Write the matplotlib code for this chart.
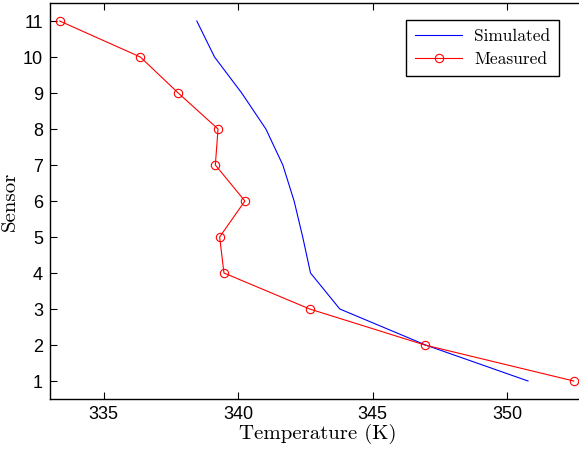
"""Simulated vs measured sensor temperatures."""
import matplotlib
import numpy as np

matplotlib.use("Agg")
from matplotlib import pyplot as plt

sensors = [1, 2, 3, 4, 5, 6, 7, 8, 9, 10, 11]
simulated_temp = [350.78, 346.97, 343.78, 342.69, 342.40, 342.08, 341.66, 341.03, 340.13, 339.12, 338.46]
measured_temp = [352.48, 346.94, 342.66, 339.47, 339.31, 340.25, 339.15, 339.25, 337.77, 336.36, 333.36]
x_ticks = [335, 340, 345, 350]
y_ticks = list(range(1, 12))

serif = "cmr10"

fig = plt.figure(figsize=(5.79, 4.51), dpi=100)
# right edge sits just past the figure, so the right spine is cut off
ax = fig.add_axes([50 / 579, 52 / 451, 535 / 579, 396 / 451])

ax.plot(simulated_temp, sensors, color="#0000ff", linewidth=0.8, label="Simulated")
ax.plot(
    measured_temp,
    sensors,
    color="#ff0000",
    linewidth=0.8,
    marker="o",
    markersize=6,
    markerfacecolor="none",
    markeredgewidth=0.8,
    label="Measured",
)

ax.set_xlim(333.0, 352.9)
ax.set_ylim(0.5, 11.5)
ax.set_xticks(x_ticks)
ax.set_yticks(y_ticks)
ax.tick_params(direction="in", top=True, right=False, length=5, width=0.8, labelsize=13, pad=5)
for label in ax.get_xticklabels() + ax.get_yticklabels():
    label.set_fontfamily("Liberation Sans")
for spine in ax.spines.values():
    spine.set_linewidth(1.0)

ax.set_xlabel("Temperature (K)", fontfamily=serif, fontsize=15, labelpad=1)
ax.set_ylabel("Sensor", fontfamily=serif, fontsize=15, labelpad=3)

legend = ax.legend(
    loc="upper right",
    prop={"family": serif, "size": 12.5},
    fancybox=False,
    framealpha=1,
    edgecolor="black",
    borderpad=0.5,
    borderaxespad=0,
    handlelength=2.7,
    handletextpad=0.7,
    labelspacing=0.45,
)
legend.set_bbox_to_anchor((559 / 579, 1 - 20 / 451), transform=fig.transFigure)
legend.get_frame().set_linewidth(1.0)

fig.savefig("out.png")
plt.close(fig)
